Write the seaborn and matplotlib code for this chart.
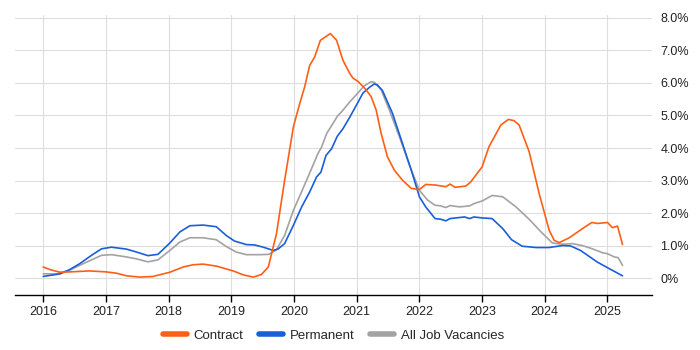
import matplotlib
matplotlib.use("Agg")
import matplotlib.pyplot as plt
import seaborn as sns
import pandas as pd
import numpy as np
from matplotlib.lines import Line2D

contract_x = [2016.00, 2016.11, 2016.27, 2016.42, 2016.74, 2017.01, 2017.17, 2017.33, 2017.54, 2017.75,
              2018.02, 2018.23, 2018.39, 2018.55, 2018.76, 2019.03, 2019.19, 2019.35, 2019.48, 2019.59,
              2019.72, 2019.85, 2019.99, 2020.09, 2020.17, 2020.25, 2020.33, 2020.42, 2020.58, 2020.68,
              2020.78, 2020.89, 2020.94, 2021.02, 2021.15, 2021.23, 2021.31, 2021.39, 2021.49, 2021.60,
              2021.73, 2021.87, 2022.00, 2022.10, 2022.26, 2022.42, 2022.49, 2022.57, 2022.74, 2022.82,
              2023.00, 2023.11, 2023.30, 2023.42, 2023.51, 2023.59, 2023.75, 2023.91, 2024.07, 2024.15,
              2024.23, 2024.39, 2024.60, 2024.75, 2024.84, 2025.00, 2025.08, 2025.16, 2025.24]
contract_y = [0.34, 0.26, 0.18, 0.19, 0.22, 0.19, 0.15, 0.07, 0.03, 0.05,
              0.18, 0.34, 0.41, 0.43, 0.37, 0.22, 0.10, 0.03, 0.11, 0.34,
              1.36, 3.00, 4.65, 5.36, 5.88, 6.54, 6.80, 7.31, 7.52, 7.31,
              6.70, 6.29, 6.15, 6.05, 5.79, 5.58, 5.17, 4.45, 3.73, 3.32,
              3.01, 2.76, 2.72, 2.88, 2.86, 2.81, 2.89, 2.79, 2.83, 2.96,
              3.42, 4.04, 4.71, 4.88, 4.84, 4.71, 3.89, 2.60, 1.47, 1.16,
              1.09, 1.24, 1.52, 1.71, 1.68, 1.71, 1.55, 1.60, 1.03]

permanent_x = [2016.00, 2016.27, 2016.42, 2016.58, 2016.77, 2016.93, 2017.09, 2017.33, 2017.49, 2017.67,
               2017.83, 2018.02, 2018.18, 2018.34, 2018.55, 2018.76, 2018.92, 2019.05, 2019.24, 2019.37,
               2019.51, 2019.67, 2019.75, 2019.85, 2019.99, 2020.12, 2020.25, 2020.36, 2020.43, 2020.51,
               2020.60, 2020.69, 2020.78, 2020.89, 2020.99, 2021.10, 2021.20, 2021.28, 2021.33, 2021.41,
               2021.57, 2021.73, 2021.87, 2022.00, 2022.10, 2022.25, 2022.34, 2022.42, 2022.49, 2022.72,
               2022.80, 2022.87, 2023.00, 2023.16, 2023.33, 2023.47, 2023.64, 2023.86, 2024.07, 2024.28,
               2024.41, 2024.57, 2024.84, 2025.00, 2025.24]
permanent_y = [0.05, 0.13, 0.26, 0.44, 0.70, 0.90, 0.95, 0.89, 0.80, 0.69,
               0.73, 1.08, 1.42, 1.61, 1.63, 1.58, 1.31, 1.14, 1.03, 1.02,
               0.95, 0.85, 0.90, 1.06, 1.62, 2.18, 2.65, 3.11, 3.26, 3.77,
               3.98, 4.36, 4.59, 4.95, 5.30, 5.69, 5.86, 5.97, 5.94, 5.77,
               5.07, 4.14, 3.32, 2.50, 2.19, 1.83, 1.81, 1.76, 1.83, 1.88,
               1.83, 1.88, 1.85, 1.83, 1.52, 1.18, 0.98, 0.94, 0.94, 1.00,
               0.99, 0.85, 0.49, 0.32, 0.07]

all_x = [2016.00, 2016.21, 2016.42, 2016.58, 2016.77, 2016.93, 2017.09, 2017.33, 2017.49, 2017.67,
         2017.83, 2018.02, 2018.18, 2018.34, 2018.55, 2018.76, 2018.92, 2019.08, 2019.24, 2019.45,
         2019.60, 2019.72, 2019.85, 2019.99, 2020.12, 2020.25, 2020.38, 2020.44, 2020.52, 2020.69,
         2020.78, 2020.89, 2020.99, 2021.12, 2021.23, 2021.28, 2021.39, 2021.52, 2021.68, 2021.84,
         2022.00, 2022.13, 2022.25, 2022.34, 2022.42, 2022.49, 2022.64, 2022.80, 2022.87, 2023.00,
         2023.16, 2023.33, 2023.54, 2023.75, 2023.94, 2024.12, 2024.28, 2024.44, 2024.60, 2024.76,
         2024.92, 2025.00, 2025.11, 2025.17, 2025.24]
all_y = [0.13, 0.13, 0.24, 0.39, 0.56, 0.70, 0.72, 0.65, 0.59, 0.50,
         0.56, 0.85, 1.11, 1.24, 1.24, 1.18, 0.97, 0.80, 0.72, 0.72,
         0.73, 0.87, 1.31, 2.08, 2.65, 3.23, 3.82, 4.03, 4.44, 4.97,
         5.16, 5.42, 5.63, 5.91, 6.04, 6.02, 5.79, 5.17, 4.35, 3.48,
         2.70, 2.40, 2.24, 2.22, 2.17, 2.23, 2.19, 2.22, 2.29, 2.37,
         2.54, 2.50, 2.19, 1.81, 1.42, 1.08, 1.04, 1.06, 1.00, 0.90,
         0.78, 0.75, 0.65, 0.63, 0.39]

series_names = ["Contract", "Permanent", "All Job Vacancies"]
series_colors = ["#ff5f15", "#1a5fd8", "#a3a3a3"]
year_ticks = [2016, 2017, 2018, 2019, 2020, 2021, 2022, 2023, 2024, 2025]
pct_ticks = [0, 1, 2, 3, 4, 5, 6, 7, 8]
pct_labels = ["0%", "1.0%", "2.0%", "3.0%", "4.0%", "5.0%", "6.0%", "7.0%", "8.0%"]

df = pd.concat([
    pd.DataFrame({"year": contract_x, "value": contract_y, "series": series_names[0]}),
    pd.DataFrame({"year": permanent_x, "value": permanent_y, "series": series_names[1]}),
    pd.DataFrame({"year": all_x, "value": all_y, "series": series_names[2]}),
], ignore_index=True)

sns.set_style("white")
plt.rcParams["font.family"] = ["Liberation Sans", "DejaVu Sans"]

fig = plt.figure(figsize=(7, 3.5), dpi=100)
ax = fig.add_axes([15/700, 55/350, 637/700, 280/350])

sns.lineplot(data=df, x="year", y="value", hue="series", hue_order=series_names,
             palette=series_colors, linewidth=1.2, ax=ax, legend=False, sort=False,
             estimator=None)
for line, z in zip(ax.lines, [3, 2, 1]):
    line.set_zorder(z)

ax.set_xlim(2015.55, 2025.71)
ax.set_ylim(-0.52, 8.09)
ax.set_xticks(year_ticks)
ax.set_xticklabels([str(y) for y in year_ticks], fontsize=9, color="#222222")
ax.set_yticks(pct_ticks)
ax.set_yticklabels(pct_labels, fontsize=9, color="#222222")
ax.yaxis.tick_right()
ax.tick_params(axis="y", length=0, pad=6)
ax.tick_params(axis="x", length=5, width=1, color="black", direction="out", pad=3, bottom=True)
ax.grid(True, color="#dddddd", linewidth=0.8)
ax.set_axisbelow(True)
for s in ["top", "left", "right"]:
    ax.spines[s].set_visible(False)
ax.spines["bottom"].set_color("black")
ax.spines["bottom"].set_linewidth(1)
ax.set_xlabel("")
ax.set_ylabel("")

handles = [Line2D([0], [0], color=c, linewidth=4) for c in series_colors]
ax.legend(handles, series_names, loc="center", bbox_to_anchor=(0.5, -0.145),
          ncol=3, frameon=False, fontsize=9.5, handlelength=1.8, handletextpad=0.5,
          columnspacing=1.2)

fig.savefig("out.png", dpi=100)
